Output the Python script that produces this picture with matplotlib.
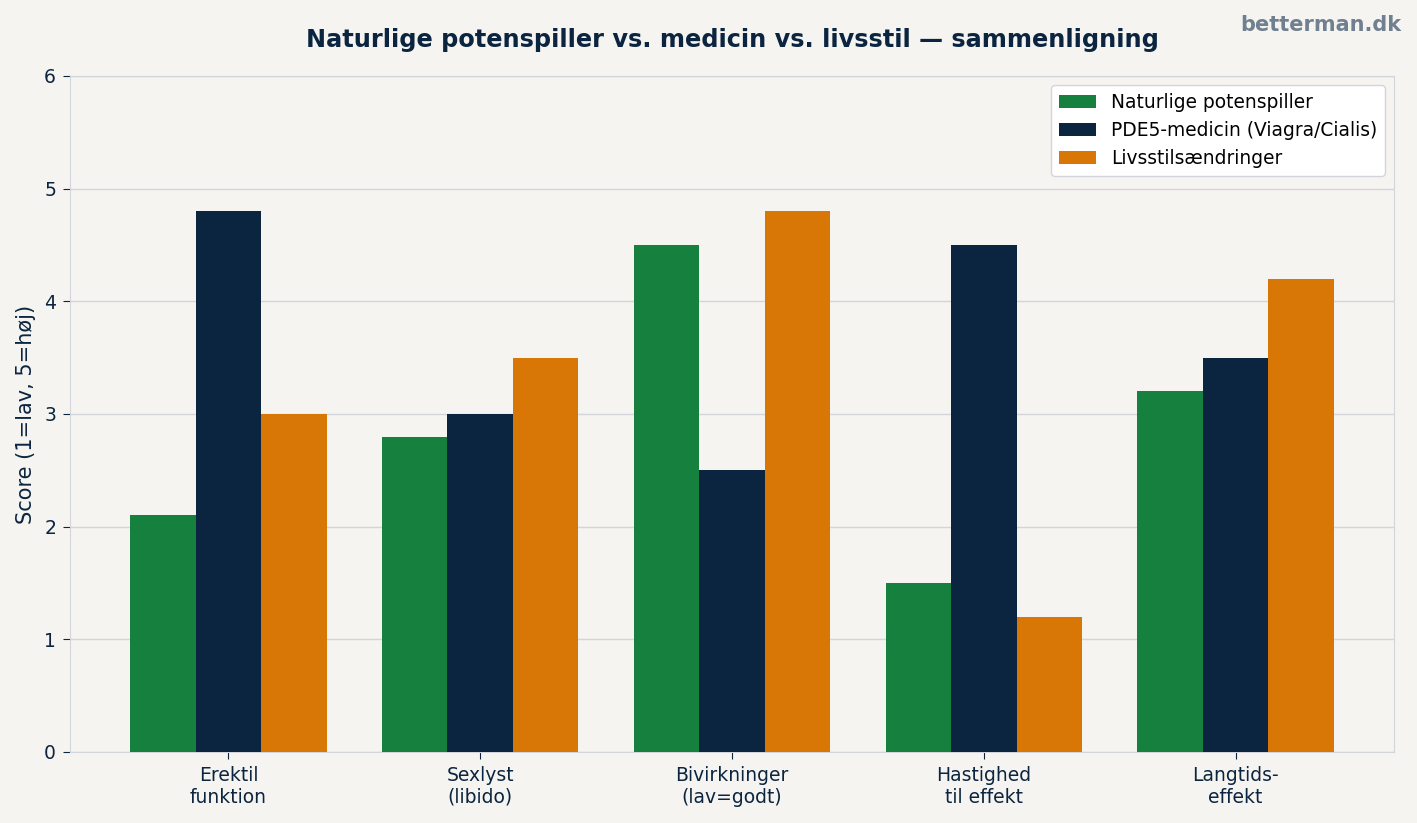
import numpy as np
import matplotlib.pyplot as plt

categories = ["Erektil\nfunktion", "Sexlyst\n(libido)", "Bivirkninger\n(lav=godt)",
              "Hastighed\ntil effekt", "Langtids-\neffekt"]
natural = [2.1, 2.8, 4.5, 1.5, 3.2]
pde5 = [4.8, 3.0, 2.5, 4.5, 3.5]
lifestyle = [3.0, 3.5, 4.8, 1.2, 4.2]
series = [("Naturlige potenspiller", natural, "#16803e"),
          ("PDE5-medicin (Viagra/Cialis)", pde5, "#0b2540"),
          ("Livsstilsændringer", lifestyle, "#d97706")]

bg = "#f5f4f0"
navy = "#0b2540"
grid = "#d3d5dc"

fig = plt.figure(figsize=(14.17, 8.23), dpi=100, facecolor=bg)
ax = fig.add_axes([0.0494, 0.0863, 0.9344, 0.8214])
ax.set_facecolor(bg)

x = np.arange(len(categories))
w = 0.26
for i, (name, vals, col) in enumerate(series):
    ax.bar(x + (i - 1) * w, vals, w, color=col, label=name, zorder=3)

ax.set_ylim(0, 6)
ax.set_xticks(x)
ax.set_xticklabels(categories, fontsize=13.5, color=navy)
ax.tick_params(axis="y", labelsize=13.5, colors=navy, length=5, pad=5)
ax.tick_params(axis="x", colors=navy, length=5, pad=5)
ax.yaxis.grid(True, color=grid, linewidth=1, zorder=0)
for s in ax.spines.values():
    s.set_color(grid)
ax.set_ylabel("Score (1=lav, 5=høj)", fontsize=15, color=navy, labelpad=6)
ax.set_title("Naturlige potenspiller vs. medicin vs. livsstil — sammenligning",
             fontsize=17.3, fontweight="bold", color=navy, pad=21)

leg = ax.legend(loc="upper right", fontsize=13.4, framealpha=1, facecolor="white",
                edgecolor=grid)

fig.text(0.989, 0.970, "betterman.dk", ha="right", va="center", fontsize=15,
         fontweight="bold", color="#708090")

fig.savefig("out.png", dpi=100, facecolor=bg)
